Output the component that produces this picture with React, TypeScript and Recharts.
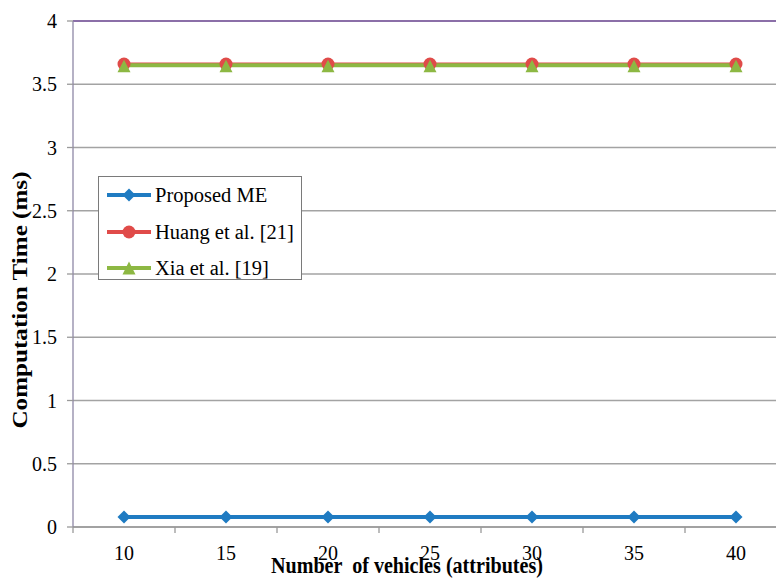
import React from 'react';
import { LineChart, Line, XAxis, YAxis, CartesianGrid, ReferenceLine, Label } from 'recharts';

const vehicles = [10, 15, 20, 25, 30, 35, 40];
const proposedME = [0.08, 0.08, 0.08, 0.08, 0.08, 0.08, 0.08];
const huang = [3.66, 3.66, 3.66, 3.66, 3.66, 3.66, 3.66];
const xia = [3.65, 3.65, 3.65, 3.65, 3.65, 3.65, 3.65];
const xTicks = [7.5, 10, 12.5, 15, 17.5, 20, 22.5, 25, 27.5, 30, 32.5, 35, 37.5, 40, 42.5];
const yTicks = [0, 0.5, 1, 1.5, 2, 2.5, 3, 3.5, 4];

const seriesNames = ['Proposed ME', 'Huang et al. [21]', 'Xia et al. [19]'];
const BLUE = '#1F7BC2';
const RED = '#E04B49';
const GREEN = '#8DB843';
const SERIF = 'Liberation Serif';

const data = vehicles.map((v, i) => ({ x: v, me: proposedME[i], huang: huang[i], xia: xia[i] }));

const Diamond = (p: any) => {
  const { cx, cy } = p;
  if (cx == null || cy == null) return null;
  const r = 6.5;
  return <polygon points={`${cx},${cy - r} ${cx + r},${cy} ${cx},${cy + r} ${cx - r},${cy}`} fill={BLUE} />;
};
const Circle = (p: any) => {
  const { cx, cy } = p;
  if (cx == null || cy == null) return null;
  return <circle cx={cx} cy={cy} r={6.5} fill={RED} />;
};
const Tri = (p: any) => {
  const { cx, cy } = p;
  if (cx == null || cy == null) return null;
  return <polygon points={`${cx},${cy - 5.5} ${cx + 6.5},${cy + 7} ${cx - 6.5},${cy + 7}`} fill={GREEN} />;
};

const XTick = (p: any) => {
  const { x, y, payload } = p;
  const v = payload.value;
  if (v % 5 !== 0) return <line x1={x} x2={x} y1={y} y2={y + 6} stroke="#9a9a9a" strokeWidth={1.3} />;
  return (
    <text x={x} y={y + 33} textAnchor="middle" style={{ fontFamily: SERIF }} fontSize={20} fill="#000">
      {v}
    </text>
  );
};

const YTick = (p: any) => {
  const { x, y, payload } = p;
  return (
    <text x={x} y={y} dy="0.35em" textAnchor="end" style={{ fontFamily: SERIF }} fontSize={20} fill="#000">
      {payload.value}
    </text>
  );
};

const YTitle = (p: any) => {
  const vb = p.viewBox || { x: 0, y: 21, width: 73, height: 506 };
  const x = vb.x + 27;
  const y = vb.y + vb.height / 2 + 26;
  return (
    <text x={x} y={y} transform={`rotate(-90, ${x}, ${y})`} textAnchor="middle" style={{ fontFamily: SERIF }}
      fontWeight="bold" fontSize={21} fill="#000" textLength={257} lengthAdjust="spacingAndGlyphs">
      Computation Time (ms)
    </text>
  );
};

const XTitle = (p: any) => {
  const vb = p.viewBox || { x: 73, y: 527, width: 714, height: 52 };
  const x = vb.x + vb.width / 2 - 23;
  const y = vb.y + 46;
  return (
    <text x={x} y={y} textAnchor="middle" style={{ fontFamily: SERIF, whiteSpace: 'pre' }} fontWeight="bold" fontSize={23}
      fill="#000" textLength={272} lengthAdjust="spacingAndGlyphs">
      {'Number  of vehicles (attributes)'}
    </text>
  );
};

const legendColors = [BLUE, RED, GREEN];
const LegendIcon = ({ i }: { i: number }) => (
  <svg width={46} height={16} style={{ display: 'block' }}>
    <line x1={1} x2={45} y1={8} y2={8} stroke={legendColors[i]} strokeWidth={4} />
    {i === 0 && <polygon points="23,1.5 29.5,8 23,14.5 16.5,8" fill={BLUE} />}
    {i === 1 && <circle cx={23} cy={8} r={6.5} fill={RED} />}
    {i === 2 && <polygon points="23,1.5 29.5,14.5 16.5,14.5" fill={GREEN} />}
  </svg>
);

export default function App() {
  return (
    <div style={{ position: 'absolute', left: 0, top: 0, width: 776, height: 579, overflow: 'hidden', background: '#fff' }}>
      <LineChart width={800} height={579} data={data} margin={{ top: 21, right: 13, left: 0, bottom: 0 }}>
        <CartesianGrid vertical={false} stroke="#a3a3a3" strokeWidth={1.3} />
        <ReferenceLine y={4} stroke="#8B6FA8" strokeWidth={2} />
        <XAxis dataKey="x" type="number" domain={[7.5, 42.5]} ticks={xTicks} interval={0}
          tickLine={false} tickSize={0} tickMargin={0} tick={<XTick />} height={52}
          axisLine={{ stroke: '#9a9a9a', strokeWidth: 1.3 }}>
          <Label content={<XTitle />} />
        </XAxis>
        <YAxis domain={[0, 4]} ticks={yTicks} interval={0} width={73} tickSize={6} tickMargin={10}
          tick={<YTick />}
          tickLine={{ stroke: '#9a9a9a', strokeWidth: 1.3 }}
          axisLine={{ stroke: '#8E87A6', strokeWidth: 1.3 }}>
          <Label content={<YTitle />} />
        </YAxis>
        <Line dataKey="me" name={seriesNames[0]} stroke={BLUE} strokeWidth={4} dot={<Diamond />} isAnimationActive={false} />
        <Line dataKey="huang" name={seriesNames[1]} stroke={RED} strokeWidth={3} dot={<Circle />} isAnimationActive={false} />
        <Line dataKey="xia" name={seriesNames[2]} stroke={GREEN} strokeWidth={4} dot={<Tri />} isAnimationActive={false} />
      </LineChart>
      <div style={{ position: 'absolute', left: 98, top: 176, width: 202, height: 102, border: '1.5px solid #7a7a7a', background: '#fff', boxSizing: 'content-box' }}>
        {seriesNames.map((n, i) => (
          <div key={n} style={{ position: 'absolute', left: 7, top: 10 + i * 36.5, height: 16, display: 'flex', alignItems: 'center' }}>
            <LegendIcon i={i} />
            <span style={{ marginLeft: 3, fontFamily: SERIF, fontSize: 20.5, color: '#000', whiteSpace: 'nowrap', lineHeight: '16px' }}>{n}</span>
          </div>
        ))}
      </div>
    </div>
  );
}
